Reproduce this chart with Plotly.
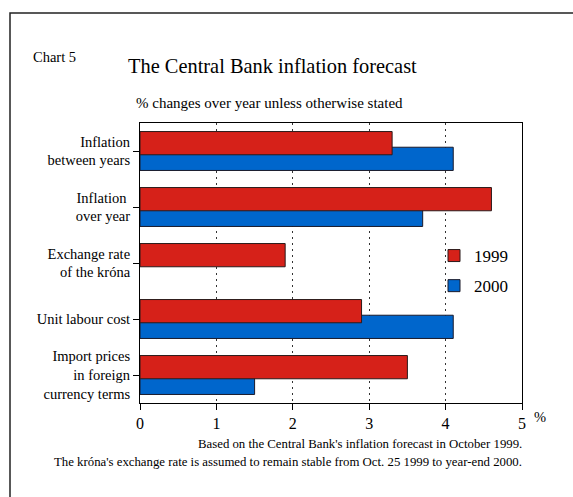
import plotly.graph_objects as go

categories = ["Inflation<br>between years", "Inflation <br>over year", "Exchange rate<br>of the króna",
              "Unit labour cost", "Import prices<br>in foreign<br>currency terms"]
values_1999 = [3.3, 4.6, 1.9, 2.9, 3.5]
values_2000 = [4.1, 3.7, None, 4.1, 1.5]
x_ticks = [0, 1, 2, 3, 4, 5]

FONT = "Liberation Serif"
RED = "#d62119"
BLUE = "#0066cc"

W, H = 573, 497
L, R, T, B = 140, 51, 123, 94
pw, ph = W - L - R, H - T - B

def px(x):
    return (x - L) / pw

def py(y):
    return (H - B - y) / ph

fig = go.Figure()
bw = 0.415
fig.add_trace(go.Bar(
    name="2000", y=categories, x=values_2000, orientation="h",
    marker=dict(color=BLUE, line=dict(color="#1a1a2a", width=1)),
    width=bw, offset=0.14 - bw / 2, legendrank=2, legendgroup="b",
))
fig.add_trace(go.Bar(
    name="1999", y=categories, x=values_1999, orientation="h",
    marker=dict(color=RED, line=dict(color="#2a1a1a", width=1)),
    width=bw, offset=-0.14 - bw / 2, legendrank=1, legendgroup="a",
))

fig.update_layout(
    width=W, height=H,
    margin=dict(l=L, r=R, t=T, b=B, pad=0),
    paper_bgcolor="white", plot_bgcolor="white",
    barmode="overlay",
    font=dict(family=FONT, color="black", size=15),
    showlegend=True,
    legend=dict(x=px(434), y=py(238), xanchor="left", yanchor="top",
                bgcolor="rgba(0,0,0,0)", font=dict(size=17, family=FONT),
                tracegroupgap=5, itemclick=False),
    xaxis=dict(range=[0, 5], tickvals=x_ticks, ticktext=[str(t) for t in x_ticks],
               showgrid=True, gridcolor="#333333", griddash="2px,4px", gridwidth=1,
               zeroline=False, showline=True, linecolor="black", linewidth=1, mirror=True,
               ticks="outside", ticklen=6, tickcolor="black",
               tickfont=dict(size=16, family=FONT)),
    yaxis=dict(type="category", range=[4.5, -0.5], showgrid=False, zeroline=False,
               showline=True, linecolor="black", linewidth=1, mirror=True,
               ticks="outside", ticklen=6, tickcolor="black",
               tickfont=dict(size=14.5, family=FONT)),
)

fig.add_shape(type="rect", xref="paper", yref="paper",
              x0=px(10), x1=px(W + 20), y0=py(H + 20), y1=py(13),
              line=dict(color="#222222", width=1.5), layer="above")

def note(text, x, y, size, xanchor="left"):
    fig.add_annotation(text=text, xref="paper", yref="paper", x=px(x), y=py(y),
                       xanchor=xanchor, yanchor="middle", showarrow=False,
                       font=dict(family=FONT, size=size, color="black"))

note("Chart 5", 31, 57, 14.5)
note("The Central Bank inflation forecast", 126, 66, 20.4)
note("% changes over year unless otherwise stated", 134, 103, 15)
note("%", 532, 417, 14.5)
note("Based on the Central Bank's inflation forecast in October 1999.", 524, 444, 12.8, "right")
note("The króna's exchange rate is assumed to remain stable from Oct. 25 1999 to year-end 2000.", 524, 462, 12.8, "right")

fig.write_html("out.html")
